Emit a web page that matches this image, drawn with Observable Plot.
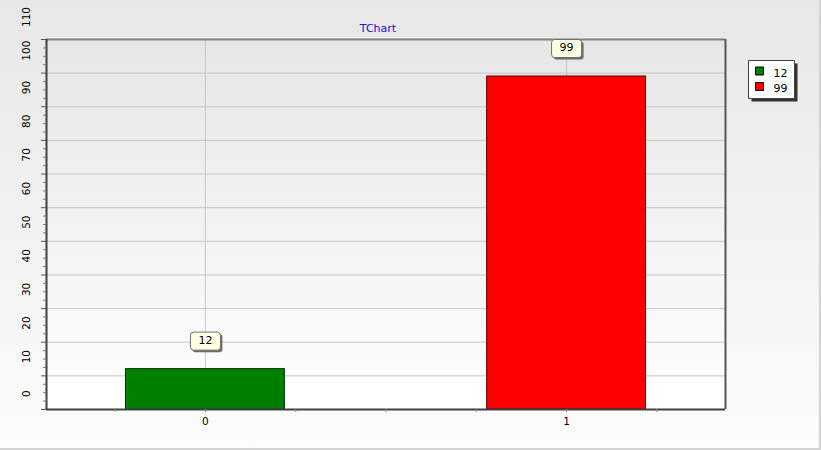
<!DOCTYPE html>
<html>
<head>
<meta charset="utf-8">
<script src="https://cdn.jsdelivr.net/npm/d3@7"></script>
<script src="https://cdn.jsdelivr.net/npm/@observablehq/plot@0.6"></script>
<style>
  html, body { margin: 0; padding: 0; }
  #wrap {
    position: relative; width: 821px; height: 450px; overflow: hidden;
    background: linear-gradient(#e7e7e7, #fdfdfd);
    box-shadow: inset -2px -2px 0 #d2d2d2;
  }
  #wrap svg { display: block; }
</style>
</head>
<body>
<div id="wrap"></div>
<script>
// ---- data ----
const categories = [0, 1];
const values = [12, 99];
const colors = ["#008000", "#ff0000"];
const strokes = ["#003000", "#500000"];
const seriesLabels = ["12", "99"];
const title = "TChart";
const yTicks = [0, 10, 20, 30, 40, 50, 60, 70, 80, 90, 100, 110];
const yGrid = [10, 20, 30, 40, 50, 60, 70, 80, 90, 100];
const xLabels = [0, 1];
const xMinorTicks = [-0.25, 0, 0.25, 0.5, 0.75, 1, 1.25];
const xDomain = [-0.44, 1.44];
const yDomain = [0, 110];

const data = categories.map((c, i) => ({x: c, value: values[i], color: colors[i], stroke: strokes[i], label: seriesLabels[i]}));
const yMinorTicks = d3.range(2.5, 110, 2.5).filter(v => v % 10 !== 0);

// custom symbols
function boxSymbol(w, h, r) {
  return {
    draw(ctx) {
      const x0 = -w / 2, y0 = -h / 2, x1 = w / 2, y1 = h / 2;
      ctx.moveTo(x0 + r, y0);
      ctx.lineTo(x1 - r, y0);
      ctx.arcTo(x1, y0, x1, y0 + r, r);
      ctx.lineTo(x1, y1 - r);
      ctx.arcTo(x1, y1, x1 - r, y1, r);
      ctx.lineTo(x0 + r, y1);
      ctx.arcTo(x0, y1, x0, y1 - r, r);
      ctx.lineTo(x0, y0 + r);
      ctx.arcTo(x0, y0, x0 + r, y0, r);
      ctx.closePath();
    }
  };
}
const calloutBox = boxSymbol(30, 18, 3);
const legendBox = boxSymbol(46, 38, 0);
const legendSwatch = boxSymbol(8, 8, 0);

const font = "DejaVu Sans, Verdana, sans-serif";

const legendMarks = data.flatMap((d, i) => [
  Plot.dot([d], {frameAnchor: "top-right", dx: 34, dy: 31.5 + 15.5 * i, symbol: legendSwatch, r: 4, fill: d => d.color, stroke: "#000", strokeWidth: 1}),
  Plot.text([d], {frameAnchor: "top-right", dx: 48, dy: 29.5 + 15.5 * i, text: d => d.label, textAnchor: "start", fill: "#000", fontSize: 11})
]);

const chart = Plot.plot({
  width: 821,
  height: 450,
  marginLeft: 46,
  marginRight: 96,
  marginTop: 39,
  marginBottom: 41,
  style: {background: "transparent", fontFamily: font},
  x: {domain: xDomain, axis: null},
  y: {domain: yDomain, axis: null},
  marks: [
    Plot.frame({fill: "url(#plotGrad)", stroke: "none"}),
    Plot.ruleY(yGrid, {stroke: "#c6c6c6", strokeWidth: 1}),
    Plot.ruleX(xLabels, {stroke: "#c6c6c6", strokeWidth: 1}),
    Plot.rectY(data, {x1: d => d.x - 0.22, x2: d => d.x + 0.22, y1: 0, y2: "value", fill: "color", stroke: "stroke", strokeWidth: 1}),
    // plot border
    Plot.ruleY([yDomain[1]], {stroke: "#808080", strokeWidth: 2}),
    Plot.ruleX([xDomain[1]], {stroke: "#555", strokeWidth: 2}),
    Plot.ruleX([xDomain[0]], {stroke: "#404040", strokeWidth: 2}),
    Plot.ruleY([yDomain[0]], {stroke: "#404040", strokeWidth: 2}),
    // y ticks
    Plot.axisY({ticks: yTicks, tickSize: 5, tickFormat: () => "", label: null, stroke: "#555"}),
    Plot.axisY({ticks: yMinorTicks, tickSize: 3, tickFormat: () => "", label: null, stroke: "#777"}),
    Plot.text(yTicks, {y: d => d, frameAnchor: "left", dx: -20, dy: -12.5, rotate: -90, text: d => String(d), fill: "#000", fontSize: 10.5}),
    // x ticks
    Plot.axisX({ticks: xMinorTicks, tickSize: 3, tickFormat: () => "", label: null, stroke: "#888"}),
    Plot.text(xLabels, {x: d => d, frameAnchor: "bottom", dy: 15, text: d => String(d), fill: "#000", fontSize: 10.5}),
    // callouts
    Plot.dot(data, {x: "x", y: "value", dx: 2, dy: -26, symbol: calloutBox, r: 5, fill: "#6a6a6a", stroke: "none"}),
    Plot.dot(data, {x: "x", y: "value", dy: -28, symbol: calloutBox, r: 5, fill: "#ffffe1", stroke: "#707070", strokeWidth: 1}),
    Plot.text(data, {x: "x", y: "value", dy: -29, text: d => String(d.value), fill: "#000", fontSize: 11}),
    // title
    Plot.text([title], {frameAnchor: "top", dx: -8, dy: -15, text: d => d, fill: "#1a10d8", fontSize: 11}),
    // legend
    Plot.dot([0], {frameAnchor: "top-right", dx: 49, dy: 43, symbol: legendBox, r: 5, fill: "#333", stroke: "none"}),
    Plot.dot([0], {frameAnchor: "top-right", dx: 46, dy: 40, symbol: legendBox, r: 5, fill: "#ffffff", stroke: "#404040", strokeWidth: 1}),
    ...legendMarks
  ]
});

d3.select(chart).insert("defs", ":first-child").html(
  '<linearGradient id="plotGrad" x1="0" y1="0" x2="0" y2="1">' +
  '<stop offset="0" stop-color="#e6e6e6"/><stop offset="1" stop-color="#ffffff"/></linearGradient>'
);

document.getElementById("wrap").appendChild(chart);
</script>
</body>
</html>
